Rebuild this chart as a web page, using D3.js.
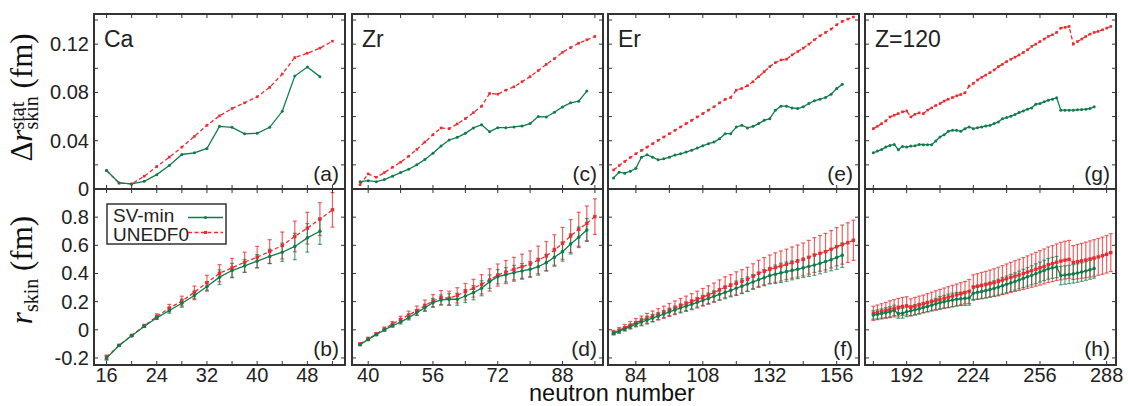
<!DOCTYPE html>
<html><head><meta charset="utf-8">
<script src="https://cdn.jsdelivr.net/npm/d3@7"></script>
<style>body{margin:0;background:#fff}svg{display:block}</style>
</head><body><svg id="c" width="1128" height="406"></svg>
<script>
// ---------------- DATA ----------------
const caN = [16,18,20,22,24,26,28,30,32,34,36,38,40,42,44,46,48,50,52];
const caStatSV = [0.0153,0.005,0.0042,0.0064,0.0119,0.0194,0.0286,0.030,0.0336,0.0519,0.0511,0.0458,0.0461,0.0511,0.0644,0.0936,0.1011,0.0931];
const caStatUN = [0.0153,0.005,0.0042,0.0106,0.0186,0.0264,0.0347,0.0436,0.0528,0.0606,0.0667,0.0714,0.0764,0.0842,0.0953,0.1089,0.1125,0.1167,0.1225];
const caSkinSV = [-0.201,-0.111,-0.043,0.024,0.085,0.137,0.189,0.244,0.308,0.374,0.421,0.454,0.488,0.521,0.551,0.592,0.653,0.70];
const caSkinUN = [-0.195,-0.11,-0.04,0.028,0.095,0.154,0.204,0.267,0.334,0.402,0.44,0.48,0.516,0.556,0.599,0.663,0.722,0.786,0.852];

const zrN = [38,40,42,44,46,48,50,52,54,56,58,60,62,64,66,68,70,72,74,76,78,80,82,84,86,88,90,92,94,96];
const zrStatSV = [0.0061,0.0069,0.0061,0.0078,0.0106,0.0136,0.0164,0.02,0.0244,0.0297,0.0356,0.0406,0.0428,0.0461,0.0506,0.0533,0.0475,0.0508,0.0508,0.0514,0.0522,0.0542,0.06,0.0597,0.0636,0.068,0.0714,0.0728,0.0811];
const zrStatUN = [0.0036,0.0125,0.0097,0.0136,0.018,0.0222,0.0272,0.0328,0.0389,0.045,0.0506,0.05,0.0539,0.0583,0.0633,0.0686,0.0792,0.0786,0.0819,0.0847,0.0889,0.0931,0.0981,0.1033,0.108,0.1133,0.1172,0.1208,0.1236,0.1264];
const zrSkinSV = [-0.106,-0.068,-0.035,-0.001,0.029,0.055,0.086,0.122,0.157,0.193,0.212,0.217,0.217,0.24,0.264,0.295,0.342,0.377,0.391,0.406,0.418,0.43,0.448,0.477,0.515,0.555,0.61,0.657,0.709];
const zrSkinUN = [-0.10,-0.065,-0.03,0.006,0.041,0.074,0.105,0.136,0.172,0.205,0.228,0.224,0.245,0.271,0.295,0.323,0.354,0.389,0.41,0.43,0.448,0.467,0.496,0.524,0.567,0.614,0.666,0.714,0.756,0.804];

const erN = [76,78,80,82,84,86,88,90,92,94,96,98,100,102,104,106,108,110,112,114,116,118,120,122,124,126,128,130,132,134,136,138,140,142,144,146,148,150,152,154,156,158,160,162];
const erStatSV = [0.0092,0.0139,0.0131,0.0147,0.0172,0.0264,0.0283,0.0264,0.0242,0.025,0.0264,0.0281,0.0292,0.0306,0.0322,0.0339,0.0358,0.0375,0.0389,0.0417,0.0458,0.0458,0.0514,0.0528,0.0506,0.0519,0.0542,0.0569,0.0583,0.0653,0.0686,0.0686,0.0672,0.0667,0.0681,0.0708,0.0731,0.0744,0.0758,0.0786,0.0833,0.0867];
const erStatUN = [0.0158,0.0194,0.0228,0.0261,0.0292,0.032,0.0347,0.0375,0.0403,0.0431,0.0458,0.0486,0.0514,0.0542,0.0569,0.0597,0.0625,0.0653,0.0681,0.0714,0.0742,0.0758,0.0819,0.0833,0.0856,0.0889,0.0931,0.0972,0.1014,0.1047,0.1069,0.1075,0.1111,0.1139,0.1167,0.12,0.1236,0.1269,0.1297,0.1325,0.1361,0.1389,0.1408,0.1425];
const erSkinSV = [-0.025,-0.01,0.006,0.023,0.04,0.055,0.069,0.083,0.097,0.112,0.127,0.141,0.155,0.168,0.181,0.195,0.209,0.223,0.238,0.252,0.266,0.28,0.295,0.31,0.325,0.34,0.355,0.37,0.385,0.395,0.404,0.413,0.422,0.43,0.44,0.45,0.46,0.472,0.485,0.498,0.513,0.53];
const erSkinUN = [-0.02,-0.003,0.015,0.033,0.051,0.066,0.082,0.096,0.11,0.125,0.141,0.156,0.171,0.185,0.2,0.215,0.231,0.247,0.264,0.283,0.302,0.316,0.33,0.344,0.358,0.38,0.401,0.416,0.43,0.442,0.453,0.465,0.477,0.488,0.5,0.515,0.531,0.543,0.555,0.572,0.59,0.605,0.619,0.636];

const zN = [176,178,180,182,184,186,188,190,192,194,196,198,200,202,204,206,208,210,212,214,216,218,220,222,224,226,228,230,232,234,236,238,240,242,244,246,248,250,252,254,256,258,260,262,264,266,268,270,272,274,276,278,280,282,284,286,288,290];
const zStatSV = [0.03,0.0314,0.0328,0.0347,0.0361,0.0369,0.0325,0.0353,0.0347,0.0356,0.0358,0.0369,0.0367,0.0367,0.0367,0.0397,0.0431,0.045,0.0478,0.0486,0.0486,0.0478,0.05,0.0514,0.05,0.0508,0.0514,0.0522,0.0528,0.0542,0.0556,0.0583,0.0592,0.0603,0.0617,0.0633,0.0647,0.0661,0.0672,0.0703,0.0708,0.0722,0.0736,0.0744,0.0756,0.0653,0.0653,0.0653,0.0653,0.0656,0.0658,0.0661,0.0667,0.0681];
const zStatUN = [0.05,0.052,0.0542,0.0564,0.0597,0.0611,0.0625,0.0639,0.0647,0.0597,0.0619,0.0631,0.0625,0.0653,0.0672,0.0692,0.0708,0.0728,0.0744,0.0758,0.0772,0.0783,0.0797,0.0853,0.0875,0.0903,0.0925,0.0944,0.0964,0.0986,0.1014,0.1033,0.1056,0.1075,0.1092,0.1111,0.1131,0.1153,0.1181,0.12,0.1222,0.1242,0.1264,0.1278,0.1297,0.1333,0.1339,0.1347,0.12,0.1222,0.1242,0.1264,0.1283,0.1297,0.1306,0.1319,0.1333,0.1347];
const zSkinSV = [0.105,0.11,0.116,0.122,0.128,0.138,0.115,0.118,0.128,0.135,0.142,0.15,0.158,0.166,0.175,0.184,0.193,0.2,0.206,0.212,0.217,0.22,0.223,0.226,0.26,0.266,0.272,0.279,0.286,0.294,0.303,0.313,0.323,0.333,0.343,0.354,0.365,0.376,0.387,0.398,0.41,0.422,0.433,0.44,0.446,0.385,0.389,0.393,0.397,0.403,0.41,0.418,0.426,0.435];
const zSkinUN = [0.117,0.124,0.131,0.138,0.146,0.153,0.16,0.166,0.17,0.16,0.168,0.176,0.184,0.192,0.2,0.208,0.216,0.224,0.232,0.24,0.248,0.256,0.264,0.272,0.303,0.309,0.315,0.321,0.328,0.335,0.343,0.353,0.362,0.372,0.381,0.39,0.40,0.41,0.42,0.43,0.44,0.45,0.462,0.47,0.48,0.488,0.495,0.5,0.478,0.484,0.49,0.496,0.503,0.51,0.518,0.526,0.536,0.548];

const panelNames = ["Ca","Zr","Er","Z=120"];
const topTags = ["(a)","(c)","(e)","(g)"];
const botTags = ["(b)","(d)","(f)","(h)"];
const xTicks = [[16,20,24,28,32,36,40,44,48,52],[40,48,56,64,72,80,88,96],[84,96,108,120,132,144,156],[176,192,208,224,240,256,272,288]];
const xTickLabels = [[16,24,32,40,48],[40,56,72,88],[84,108,132,156],[192,224,256,288]];
const statTicks = [0,0.02,0.04,0.06,0.08,0.10,0.12,0.14];
const statLabels = ["0","0.04","0.08","0.12"];
const skinTicks = [-0.2,0,0.2,0.4,0.6,0.8];
const skinLabels = ["-0.2","0","0.2","0.4","0.6","0.8"];
const seriesNames = ["SV-min","UNEDF0"];
const xTitle = "neutron number";

// ---------------- LAYOUT ----------------
const svg = d3.select("#c");
const SANS = "'Liberation Sans', Arial, Helvetica, sans-serif";
const SERIF = "'Liberation Serif', 'Times New Roman', 'DejaVu Serif', serif";
const GREEN = "#0f7d4c", RED = "#ee2a2e", FRAME = "#333";
const X0 = [94, 352, 608, 865], PW = 251;
const Y0 = 14, YM = 189, Y1 = 365;
const xDomains = [[14,54],[36,98],[74,164],[172,292.5]];
const yTop = d3.scaleLinear().domain([0,0.145]).range([YM,Y0]);
const yBot = d3.scaleLinear().domain([-0.25,1.0]).range([Y1,YM]);

const data = [
  {N:caN, sSV:caStatSV, sUN:caStatUN, kSV:caSkinSV, kUN:caSkinUN},
  {N:zrN, sSV:zrStatSV, sUN:zrStatUN, kSV:zrSkinSV, kUN:zrSkinUN},
  {N:erN, sSV:erStatSV, sUN:erStatUN, kSV:erSkinSV, kUN:erSkinUN},
  {N:zN,  sSV:zStatSV,  sUN:zStatUN,  kSV:zSkinSV,  kUN:zSkinUN}
];

data.forEach((d, i) => {
  const x = d3.scaleLinear().domain(xDomains[i]).range([X0[i], X0[i]+PW]);
  const g = svg.append("g");
  const pts = (vals) => vals.map((v,j)=>[d.N[j], v]);
  const line = (ys) => d3.line().x(p=>x(p[0])).y(p=>ys(p[1]));

  // ---- top panel: statistical error
  g.append("path").datum(pts(d.sUN)).attr("d", line(yTop)).attr("fill","none")
    .attr("stroke",RED).attr("stroke-width",1.3).attr("stroke-dasharray","4,2.5");
  g.selectAll(null).data(pts(d.sUN)).enter().append("rect")
    .attr("x",p=>x(p[0])-1.3).attr("y",p=>yTop(p[1])-1.3).attr("width",2.6).attr("height",2.6).attr("fill",RED);
  g.append("path").datum(pts(d.sSV)).attr("d", line(yTop)).attr("fill","none")
    .attr("stroke",GREEN).attr("stroke-width",1.3);
  g.selectAll(null).data(pts(d.sSV)).enter().append("circle")
    .attr("cx",p=>x(p[0])).attr("cy",p=>yTop(p[1])).attr("r",1.5).attr("fill",GREEN);

  // ---- bottom panel: skin with error bars (half-length = stat error)
  const bars = (vals, errs, col, op) => {
    const gb = g.append("g").attr("stroke",col).attr("stroke-opacity",op).attr("stroke-width",1.2);
    vals.forEach((v,j) => {
      const cx = x(d.N[j]), e = errs[j];
      const ya = yBot(v+e), yb = yBot(v-e);
      gb.append("line").attr("x1",cx).attr("x2",cx).attr("y1",ya).attr("y2",yb);
      gb.append("line").attr("x1",cx-2).attr("x2",cx+2).attr("y1",ya).attr("y2",ya);
      gb.append("line").attr("x1",cx-2).attr("x2",cx+2).attr("y1",yb).attr("y2",yb);
    });
  };
  bars(d.kUN, d.sUN, RED, 0.75);
  bars(d.kSV, d.sSV, GREEN, 0.7);
  g.append("path").datum(pts(d.kUN)).attr("d", line(yBot)).attr("fill","none")
    .attr("stroke",RED).attr("stroke-width",1.3).attr("stroke-dasharray","4,2.5");
  g.selectAll(null).data(pts(d.kUN)).enter().append("rect")
    .attr("x",p=>x(p[0])-1.7).attr("y",p=>yBot(p[1])-1.7).attr("width",3.4).attr("height",3.4).attr("fill",RED);
  g.append("path").datum(pts(d.kSV)).attr("d", line(yBot)).attr("fill","none")
    .attr("stroke",GREEN).attr("stroke-width",1.3);
  g.selectAll(null).data(pts(d.kSV)).enter().append("circle")
    .attr("cx",p=>x(p[0])).attr("cy",p=>yBot(p[1])).attr("r",1.8).attr("fill",GREEN);

  // ---- ticks
  const tk = g.append("g").attr("stroke",FRAME).attr("stroke-width",1);
  const xl = X0[i], xr = X0[i]+PW;
  xTicks[i].forEach(t => {
    const px = x(t);
    [[Y0,4],[YM,-4],[YM,4],[Y1,-4]].forEach(([yy,dd]) =>
      tk.append("line").attr("x1",px).attr("x2",px).attr("y1",yy).attr("y2",yy+dd));
  });
  statTicks.forEach(t => {
    const py = yTop(t);
    tk.append("line").attr("x1",xl).attr("x2",xl+4).attr("y1",py).attr("y2",py);
    tk.append("line").attr("x1",xr).attr("x2",xr-4).attr("y1",py).attr("y2",py);
  });
  skinTicks.forEach(t => {
    const py = yBot(t);
    tk.append("line").attr("x1",xl).attr("x2",xl+4).attr("y1",py).attr("y2",py);
    tk.append("line").attr("x1",xr).attr("x2",xr-4).attr("y1",py).attr("y2",py);
  });

  // ---- frames
  g.append("rect").attr("x",xl).attr("y",Y0).attr("width",PW).attr("height",YM-Y0)
    .attr("fill","none").attr("stroke",FRAME).attr("stroke-width",2);
  g.append("rect").attr("x",xl).attr("y",YM).attr("width",PW).attr("height",Y1-YM)
    .attr("fill","none").attr("stroke",FRAME).attr("stroke-width",2);

  // ---- x tick labels
  xTickLabels[i].forEach(t => {
    g.append("text").attr("x",x(t)).attr("y",382).attr("text-anchor","middle")
      .attr("font-family",SANS).attr("font-size",20).attr("fill","#222").text(t);
  });

  // ---- panel texts
  g.append("text").attr("x",xl+10).attr("y",47).attr("font-family",SANS).attr("font-size",23)
    .attr("fill","#222").text(panelNames[i]);
  g.append("text").attr("x",xr-6).attr("y",180.5).attr("text-anchor","end").attr("font-family",SANS)
    .attr("font-size",21).attr("fill","#222").text(topTags[i]);
  g.append("text").attr("x",xr-6).attr("y",355.5).attr("text-anchor","end").attr("font-family",SANS)
    .attr("font-size",21).attr("fill","#222").text(botTags[i]);
});

// ---- y tick labels (first column only)
statLabels.forEach(s => {
  svg.append("text").attr("x",89).attr("y",yTop(+s)+7).attr("text-anchor","end")
    .attr("font-family",SANS).attr("font-size",20).attr("fill","#222").text(s);
});
skinLabels.forEach(s => {
  svg.append("text").attr("x",89).attr("y",yBot(+s)+7).attr("text-anchor","end")
    .attr("font-family",SANS).attr("font-size",20).attr("fill","#222").text(s);
});

// ---- y axis titles (rotated, built from pieces)
function yTitle(cx, cy, pieces) {
  const g = svg.append("g");
  let pos = 0;
  pieces.forEach(pc => {
    let w = 0;
    pc.forEach(part => {
      const t = g.append("text").attr("x",pos).attr("y",part.dy||0)
        .attr("font-family",SERIF).attr("font-size",part.size)
        .attr("font-style",part.italic?"italic":"normal").attr("fill","#111")
        .style("white-space","pre").text(part.text);
      w = Math.max(w, t.node().getComputedTextLength());
    });
    pos += w;
  });
  g.selectAll("text").attr("transform",`translate(${-pos/2},0)`);
  g.attr("transform",`translate(${cx},${cy}) rotate(-90)`);
}
yTitle(32, 97.5, [
  [{text:"Δ", size:31}],
  [{text:"r", size:31, italic:true}],
  [{text:"stat", size:20, dy:-8},{text:"skin", size:20, dy:6}],
  [{text:" (fm)", size:31}]
]);
yTitle(32, 270, [
  [{text:"r", size:31, italic:true}],
  [{text:"skin", size:20, dy:6}],
  [{text:" (fm)", size:31}]
]);

// ---- x title
svg.append("text").attr("x",612).attr("y",401).attr("text-anchor","middle")
  .attr("font-family",SANS).attr("font-size",23.5).attr("fill","#111").text(xTitle);

// ---- legend
const lg = svg.append("g");
lg.append("rect").attr("x",107).attr("y",204).attr("width",119).attr("height",40)
  .attr("fill","#fff").attr("stroke",FRAME).attr("stroke-width",1.5);
[[GREEN,null,217.5,222],[RED,"4,2.5",232.5,241]].forEach(([col,dash,ly,ty],k) => {
  lg.append("text").attr("x",113).attr("y",ty).attr("font-family",SANS).attr("font-size",19)
    .attr("fill","#222").text(seriesNames[k]);
  lg.append("line").attr("x1",188).attr("x2",223).attr("y1",ly).attr("y2",ly)
    .attr("stroke",col).attr("stroke-width",1.3).attr("stroke-dasharray",dash);
  if (k===0) lg.append("circle").attr("cx",205.5).attr("cy",ly).attr("r",1.6).attr("fill",col);
  else lg.append("rect").attr("x",204).attr("y",ly-1.5).attr("width",3).attr("height",3).attr("fill",col);
});
</script></body></html>
